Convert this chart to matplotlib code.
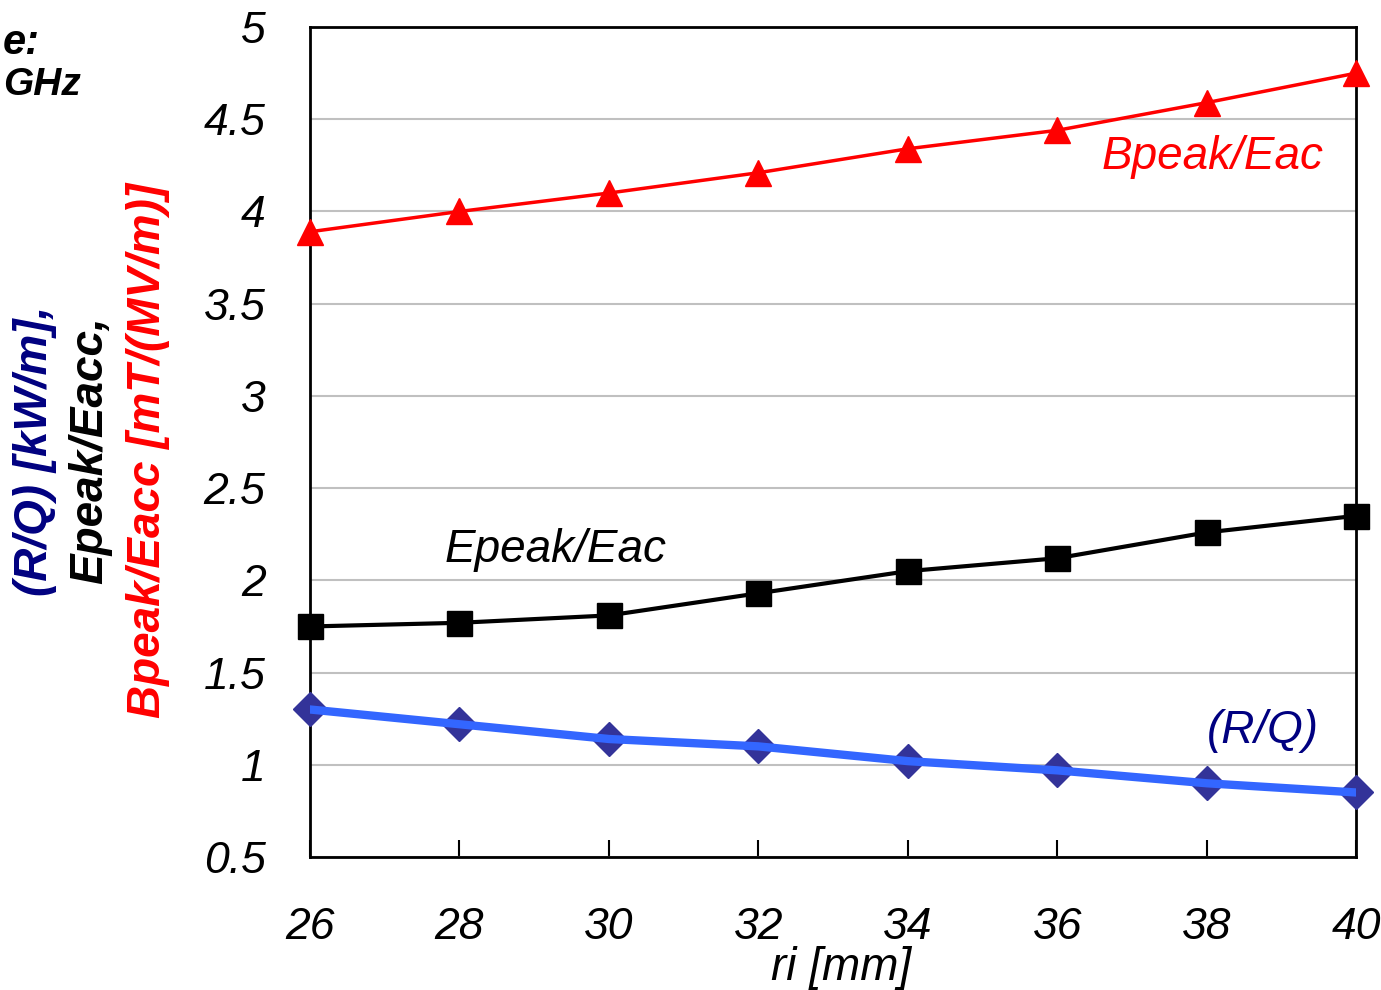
import numpy as np
import matplotlib
matplotlib.use('Agg')
import matplotlib.pyplot as plt

plt.rcParams['font.family'] = ['Liberation Sans', 'DejaVu Sans']

ri = [26, 28, 30, 32, 34, 36, 38, 40]
bpeak_eacc = [3.89, 4.00, 4.10, 4.21, 4.34, 4.44, 4.59, 4.75]
epeak_eacc = [1.75, 1.77, 1.81, 1.93, 2.05, 2.12, 2.26, 2.35]
r_over_q = [1.30, 1.22, 1.14, 1.10, 1.02, 0.97, 0.90, 0.85]

x_ticks = [26, 28, 30, 32, 34, 36, 38, 40]
y_ticks = [0.5, 1, 1.5, 2, 2.5, 3, 3.5, 4, 4.5, 5]
y_tick_labels = ['0.5', '1', '1.5', '2', '2.5', '3', '3.5', '4', '4.5', '5']

fig = plt.figure(figsize=(13.81, 9.9), dpi=100)
ax = fig.add_axes([0.2245, 0.1343, 0.7575, 0.8384])

# Bpeak/Eacc
ax.plot(ri, bpeak_eacc, color='#ff0000', lw=2.5, marker='^', ms=19,
        mfc='#ff0000', mec='#ff0000', zorder=4, clip_on=False)
# Epeak/Eacc
ax.plot(ri, epeak_eacc, color='black', lw=3, zorder=3)
ax.plot(ri, epeak_eacc, ls='none', marker='s', ms=18, color='black', zorder=4,
        clip_on=False)
# R/Q
ax.plot(ri, r_over_q, ls='none', marker='D', ms=17, color='#333399', zorder=3,
        clip_on=False)
ax.plot(ri, r_over_q, color='#3366ff', lw=6, zorder=4)

ax.set_xlim(26, 40)
ax.set_ylim(0.5, 5)
ax.set_xticks(x_ticks)
ax.set_xticklabels([str(v) for v in x_ticks])
ax.set_yticks(y_ticks)
ax.set_yticklabels(y_tick_labels)
ax.yaxis.grid(True, color='#c0c0c0', lw=1.5)
ax.set_axisbelow(True)
for sp in ax.spines.values():
    sp.set_linewidth(2)
ax.tick_params(axis='x', direction='in', length=12, width=1.5, pad=36,
               labelsize=32)
ax.tick_params(axis='y', length=0, pad=32, labelsize=32)
for lab in ax.get_xticklabels() + ax.get_yticklabels():
    lab.set_fontstyle('italic')

fig.text(0.609, 0.022, 'ri [mm]', fontsize=33, style='italic',
         ha='center', va='center')

# series labels
ax.text(36.6, 4.23, 'Bpeak/Eac', color='#ff0000', fontsize=33, style='italic')
ax.text(27.8, 2.1, 'Epeak/Eac', color='black', fontsize=33, style='italic')
ax.text(38.0, 1.12, '(R/Q)', color='#000080', fontsize=33, style='italic')

# stacked y-axis title
fig.text(0.025, 0.545, '(R/Q) [kW/m],', color='#000080', fontsize=33,
         fontweight='bold', style='italic', rotation=90, ha='center', va='center')
fig.text(0.065, 0.545, 'Epeak/Eacc,', color='black', fontsize=33,
         fontweight='bold', style='italic', rotation=90, ha='center', va='center')
fig.text(0.107, 0.545, 'Bpeak/Eacc [mT/(MV/m)]', color='#ff0000', fontsize=33,
         fontweight='bold', style='italic', rotation=90, ha='center', va='center')

# note in the corner (cut in the source image)
fig.text(0.002, 0.957, 'e:', fontsize=30, fontweight='bold', style='italic',
         ha='left', va='center')
fig.text(0.002, 0.914, 'GHz', fontsize=28, fontweight='bold', style='italic',
         ha='left', va='center')

fig.savefig('out.png', dpi=100)
